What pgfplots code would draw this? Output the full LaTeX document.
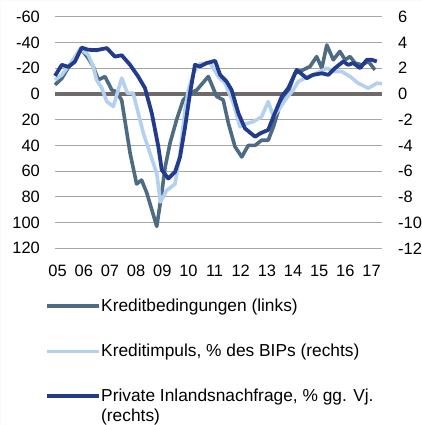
\documentclass[border=0pt]{standalone}
\usepackage{fontspec}
\setmainfont{Liberation Sans}
\usepackage{pgfplots}
\pgfplotsset{compat=1.18}
\definecolor{kgray}{HTML}{4E6B84}
\definecolor{klight}{HTML}{B3D1EF}
\definecolor{knavy}{HTML}{233B8C}
\definecolor{zgray}{HTML}{6E6A6A}
\definecolor{ggray}{HTML}{A6A6A6}
\definecolor{framec}{HTML}{FAFAFA}
\begin{document}
\begin{tikzpicture}
\useasboundingbox (0,0) rectangle (422bp,425bp);
\draw[framec, line width=0.5bp] (0.25bp,0.25bp) rectangle (421.75bp,424.75bp);
\begin{axis}[
  at={(55bp,176.7bp)}, anchor=south west,
  scale only axis, width=327bp, height=231.6bp,
  xmin=2005, xmax=2017.5, ymin=-60, ymax=120, y dir=reverse,
  clip=false,
  axis line style={draw=none}, major tick length=0pt,
  ytick={-60,-40,...,120},
  xtick={2005.1,2006.1,2007.1,2008.1,2009.1,2010.1,2011.1,2012.1,2013.1,2014.1,2015.1,2016.1,2017.1},
  xticklabels={05,06,07,08,09,10,11,12,13,14,15,16,17},
  ymajorgrids, grid style={ggray, line width=1.1bp},
  /pgf/number format/assume math mode=true,
  ticklabel style={font=\fontsize{16.5}{18}\selectfont, inner sep=0pt},
  yticklabel style={anchor=east, xshift=-15bp},
  xticklabel style={anchor=north, yshift=-16.5bp},
]
\addplot[draw=zgray, line width=4.5bp, forget plot] coordinates {(2005,0) (2017.5,0)};
\addplot[draw=kgray, line width=3.6bp, line join=round] coordinates {
(2005.00,-7) (2005.26,-12) (2005.57,-22.6) (2005.89,-31.7) (2006.02,-34.3)
(2006.27,-27.8) (2006.46,-21.3) (2006.66,-10.9) (2006.91,-13.5) (2007.17,-3.1)
(2007.36,-1.5) (2007.55,5) (2007.87,46) (2008.12,70) (2008.31,67)
(2008.51,77) (2008.89,103) (2009.08,77) (2009.21,57) (2009.40,38)
(2009.65,20) (2009.90,4.7) (2010.16,-0.5) (2010.42,-3) (2010.86,-13.5)
(2011.18,2) (2011.43,4.7) (2011.63,23) (2011.88,41) (2012.14,49)
(2012.39,40) (2012.65,40) (2012.90,36) (2013.15,36) (2013.35,25.5)
(2013.60,9) (2013.92,-1.8) (2014.17,-16) (2014.49,-18.7) (2014.75,-21.3)
(2015.00,-29) (2015.20,-20) (2015.39,-38) (2015.64,-26.5) (2015.89,-33)
(2016.09,-26.5) (2016.28,-29) (2016.47,-24) (2016.72,-22.6) (2016.98,-25.2)
(2017.23,-18.7)
};
\end{axis}
\begin{axis}[
  at={(55bp,176.7bp)}, anchor=south west,
  scale only axis, width=327bp, height=231.6bp,
  xmin=2005, xmax=2017.5, ymin=-12, ymax=6,
  clip=false,
  axis line style={draw=none}, major tick length=0pt,
  xtick=\empty,
  ytick={-12,-10,...,6},
  ytick pos=right, yticklabel pos=right,
  /pgf/number format/assume math mode=true,
  ticklabel style={font=\fontsize{16.5}{18}\selectfont, inner sep=0pt},
  yticklabel style={anchor=west, xshift=16bp},
  legend cell align=left,
  legend image code/.code={\draw[#1] (0bp,0bp) -- (52bp,0bp);},
  legend style={at={(-0.0306,-0.219)}, anchor=north west, draw=none, fill=none,
    inner sep=0pt, row sep=31bp, column sep=0bp,
    nodes={inner sep=0pt},
    font=\fontsize{17.4}{20}\selectfont},
]
\addlegendimage{draw=kgray, line width=4bp}
\addlegendentry{Kreditbedingungen (links)}
\addplot[draw=klight, line width=3.6bp, line join=round] coordinates {
(2005.00,1.09) (2005.26,1.48) (2005.64,2.5) (2005.96,3.5) (2006.27,3.04)
(2006.46,2.13) (2006.59,1.09) (2006.79,0.44) (2006.98,-0.6) (2007.23,-0.98)
(2007.55,1.22) (2007.77,0.05) (2007.99,0.05) (2008.12,-1.0) (2008.38,-3.07)
(2008.63,-4.6) (2008.89,-6.2) (2009.03,-8.4) (2009.27,-7.5) (2009.59,-7.0)
(2009.78,-4.6) (2009.97,-1.25) (2010.10,0.31) (2010.29,1.6) (2010.54,2.35)
(2010.93,2.4) (2011.24,1.35) (2011.50,0.83) (2011.82,-0.73) (2012.07,-2.55)
(2012.33,-2.3) (2012.58,-2.16) (2012.90,-1.77) (2013.15,-0.6) (2013.35,-1.77)
(2013.60,-1.1) (2013.86,-0.3) (2014.11,0.31) (2014.30,0.96) (2014.43,1.09)
(2014.68,1.35) (2015.00,1.6) (2015.39,2.0) (2015.70,1.74) (2015.96,1.74)
(2016.28,1.35) (2016.59,0.83) (2016.98,0.44) (2017.30,0.83) (2017.50,0.8)
};
\addlegendentry{Kreditimpuls, \% des BIPs (rechts)}
\addplot[draw=knavy, line width=3.8bp, line join=round] coordinates {
(2005.00,1.4) (2005.26,2.26) (2005.51,2.1) (2005.76,2.5) (2006.02,3.6)
(2006.27,3.43) (2006.59,3.4) (2006.98,3.56) (2007.29,2.9) (2007.55,3.0)
(2007.87,2.26) (2008.18,1.35) (2008.44,0.45) (2008.70,-1.5) (2008.95,-4.1)
(2009.08,-5.9) (2009.33,-6.58) (2009.59,-6.06) (2009.78,-4.9) (2009.97,-2.6)
(2010.16,0.05) (2010.35,2.26) (2010.54,2.13) (2010.80,2.4) (2011.12,2.57)
(2011.31,1.48) (2011.56,0.96) (2011.75,0.31) (2012.01,-1.5) (2012.26,-2.68)
(2012.65,-3.33) (2012.84,-3.07) (2013.15,-2.8) (2013.35,-1.77) (2013.67,-0.2)
(2013.92,0.45) (2014.24,1.87) (2014.62,1.22) (2014.87,1.48) (2015.20,1.6)
(2015.45,1.48) (2015.70,2.0) (2016.02,2.52) (2016.21,2.26) (2016.40,2.4)
(2016.66,2.0) (2016.92,2.65) (2017.11,2.65) (2017.30,2.52)
};
\addlegendentry{\makebox[0pt][l]{\raisebox{-20bp}[0pt][0pt]{(rechts)}}Private Inlandsnachfrage, \% gg. Vj.}
\end{axis}
\end{tikzpicture}
\end{document}
